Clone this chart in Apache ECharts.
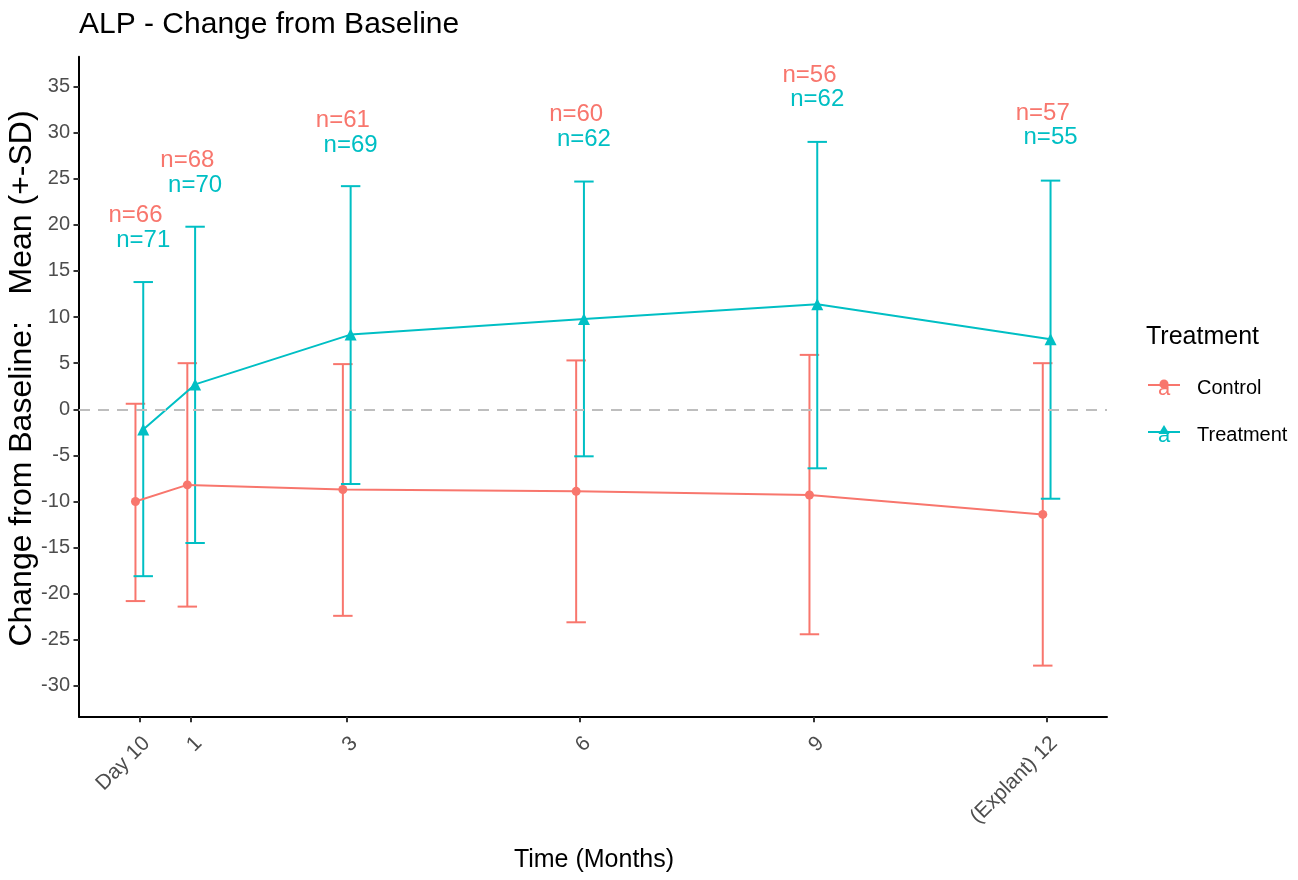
<!DOCTYPE html>
<html>
<head>
<meta charset="utf-8">
<title>ALP - Change from Baseline</title>
<script src="https://cdn.jsdelivr.net/npm/echarts@6/dist/echarts.min.js"></script>
<style>
  html, body { margin: 0; padding: 0; background: #ffffff; }
  #chart { width: 1298px; height: 880px; }
</style>
</head>
<body>
<div id="chart"></div>
<script>
// ---- data ----
const months = [0.333, 1, 3, 6, 9, 12];
const monthLabels = ['Day 10', '1', '3', '6', '9', '(Explant) 12'];
const yTicks = [-30, -25, -20, -15, -10, -5, 0, 5, 10, 15, 20, 25, 30, 35];

const controlMean  = [-10.0, -8.2, -8.7, -8.9, -9.3, -11.4];
const controlLower = [-20.8, -21.4, -22.4, -23.1, -24.4, -27.8];
const controlUpper = [0.6, 5.0, 4.9, 5.3, 5.9, 5.0];
const controlN     = [66, 68, 61, 60, 56, 57];
const controlLabelY = [21.0, 27.0, 31.3, 32.0, 36.2, 32.1];

const treatMean  = [-2.2, 2.7, 8.1, 9.8, 11.4, 7.6];
const treatLower = [-18.1, -14.5, -8.1, -5.1, -6.4, -9.7];
const treatUpper = [13.8, 19.8, 24.2, 24.7, 29.0, 24.8];
const treatN     = [71, 70, 69, 62, 62, 55];
const treatLabelY = [18.3, 24.3, 28.6, 29.3, 33.6, 29.45];

// ---- style ----
const RED = '#F8766D';
const TEAL = '#00BFC4';
const FONT = "'Liberation Sans', Arial, Helvetica, sans-serif";
const DODGE = 0.05;
const CAP = 0.125;

function errorSeries(name, color, lower, upper, shift, extra) {
  const s = {
    name: name,
    type: 'custom',
    z: 1,
    clip: false,
    silent: true,
    encode: { x: 0, y: [1, 2] },
    data: months.map((m, i) => [m + shift, lower[i], upper[i]]),
    renderItem: function (params, api) {
      const x = api.value(0);
      const lo = api.coord([x, api.value(1)]);
      const hi = api.coord([x, api.value(2)]);
      const hw = api.size([CAP, 0])[0];
      const st = { stroke: color, lineWidth: 2, fill: null };
      return {
        type: 'group',
        children: [
          { type: 'line', shape: { x1: lo[0], y1: lo[1], x2: hi[0], y2: hi[1] }, style: st },
          { type: 'line', shape: { x1: hi[0] - hw, y1: hi[1], x2: hi[0] + hw, y2: hi[1] }, style: st },
          { type: 'line', shape: { x1: lo[0] - hw, y1: lo[1], x2: lo[0] + hw, y2: lo[1] }, style: st }
        ]
      };
    }
  };
  return Object.assign(s, extra || {});
}

function meanSeries(name, color, mean, shift, symbol, size) {
  return {
    name: name,
    type: 'line',
    z: 3,
    symbol: symbol,
    symbolSize: size,
    showSymbol: true,
    silent: true,
    lineStyle: { color: color, width: 2 },
    itemStyle: { color: color, opacity: 1 },
    data: months.map((m, i) => [m + shift, mean[i]])
  };
}

function labelSeries(name, color, ys, ns, shift) {
  return {
    name: name + ' n',
    type: 'scatter',
    z: 4,
    symbolSize: 0,
    silent: true,
    itemStyle: { color: color, opacity: 1 },
    data: months.map((m, i) => [m + shift, ys[i], ns[i]]),
    label: {
      show: true,
      position: 'inside',
      formatter: p => 'n=' + p.value[2],
      color: color,
      opacity: 1,
      fontSize: 24,
      fontFamily: FONT
    }
  };
}

const chart = echarts.init(document.getElementById('chart'), null, { renderer: 'canvas' });

const option = {
  animation: false,
  backgroundColor: '#ffffff',
  title: {
    text: 'ALP - Change from Baseline',
    left: 79,
    top: 10,
    padding: 0,
    textStyle: { fontSize: 30, fontWeight: 'normal', color: '#000000', fontFamily: FONT }
  },
  grid: { left: 79, right: 191, top: 56.7, bottom: 163.3, containLabel: false },
  xAxis: {
    type: 'value',
    min: -0.443,
    max: 12.776,
    splitLine: { show: false },
    axisLine: { show: true, onZero: false, lineStyle: { color: '#000000', width: 2 } },
    axisTick: { show: true, length: 5.5, lineStyle: { color: '#333333', width: 2 }, customValues: months },
    axisLabel: {
      show: true,
      customValues: months,
      rotate: 45,
      align: 'right',
      verticalAlign: 'top',
      margin: 16,
      fontSize: 21,
      color: '#4D4D4D',
      fontFamily: FONT,
      formatter: function (v) {
        const i = months.findIndex(m => Math.abs(m - v) < 1e-6);
        return i >= 0 ? monthLabels[i] : '';
      }
    }
  },
  yAxis: {
    type: 'value',
    min: -33.34,
    max: 38.24,
    splitLine: { show: false },
    axisLine: { show: true, onZero: false, lineStyle: { color: '#000000', width: 2 } },
    axisTick: { show: true, length: 5.5, lineStyle: { color: '#333333', width: 2 }, customValues: yTicks },
    axisLabel: {
      show: true,
      customValues: yTicks,
      margin: 9,
      fontSize: 20,
      color: '#4D4D4D',
      fontFamily: FONT,
      padding: [4, 0, 0, 0]
    }
  },
  series: [
    errorSeries('Control bars', RED, controlLower, controlUpper, -DODGE, {
      markLine: {
        silent: true,
        symbol: 'none',
        label: { show: false },
        lineStyle: { type: [11, 8], color: '#BEBEBE', width: 2 },
        data: [{ yAxis: 0 }]
      }
    }),
    errorSeries('Treatment bars', TEAL, treatLower, treatUpper, DODGE),
    meanSeries('Control', RED, controlMean, -DODGE, 'circle', 9),
    meanSeries('Treatment', TEAL, treatMean, DODGE, 'triangle', 12),
    labelSeries('Control', RED, controlLabelY, controlN, -DODGE),
    labelSeries('Treatment', TEAL, treatLabelY, treatN, DODGE)
  ],
  graphic: [
    // axis titles
    {
      type: 'text', x: 594, y: 860, silent: true,
      style: { text: 'Time (Months)', fontSize: 25, fontFamily: FONT, fill: '#000000', align: 'center', verticalAlign: 'middle' }
    },
    {
      type: 'text', x: 22.5, y: 378.5, rotation: Math.PI / 2, silent: true,
      style: { text: 'Change from Baseline:   Mean (+-SD)', fontSize: 32, fontFamily: FONT, fill: '#000000', align: 'center', verticalAlign: 'middle' }
    },
    // legend
    {
      type: 'text', x: 1146, y: 336.7, silent: true,
      style: { text: 'Treatment', fontSize: 25, fontFamily: FONT, fill: '#000000', align: 'left', verticalAlign: 'middle' }
    },
    { type: 'line', silent: true, shape: { x1: 1148, y1: 385, x2: 1180, y2: 385 }, style: { stroke: RED, lineWidth: 2 } },
    { type: 'text', x: 1164, y: 389.4, silent: true, style: { text: 'a', fontSize: 22, fontFamily: FONT, fill: RED, align: 'center', verticalAlign: 'middle' } },
    { type: 'circle', silent: true, shape: { cx: 1164, cy: 384, r: 4.5 }, style: { fill: RED } },
    {
      type: 'text', x: 1197, y: 388.4, silent: true,
      style: { text: 'Control', fontSize: 20, fontFamily: FONT, fill: '#000000', align: 'left', verticalAlign: 'middle' }
    },
    { type: 'line', silent: true, shape: { x1: 1148, y1: 432, x2: 1180, y2: 432 }, style: { stroke: TEAL, lineWidth: 2 } },
    { type: 'text', x: 1164, y: 436.4, silent: true, style: { text: 'a', fontSize: 22, fontFamily: FONT, fill: TEAL, align: 'center', verticalAlign: 'middle' } },
    { type: 'polygon', silent: true, shape: { points: [[1164, 425], [1169.5, 434], [1158.5, 434]] }, style: { fill: TEAL } },
    {
      type: 'text', x: 1197, y: 435, silent: true,
      style: { text: 'Treatment', fontSize: 20, fontFamily: FONT, fill: '#000000', align: 'left', verticalAlign: 'middle' }
    }
  ]
};

chart.setOption(option);
</script>
</body>
</html>
